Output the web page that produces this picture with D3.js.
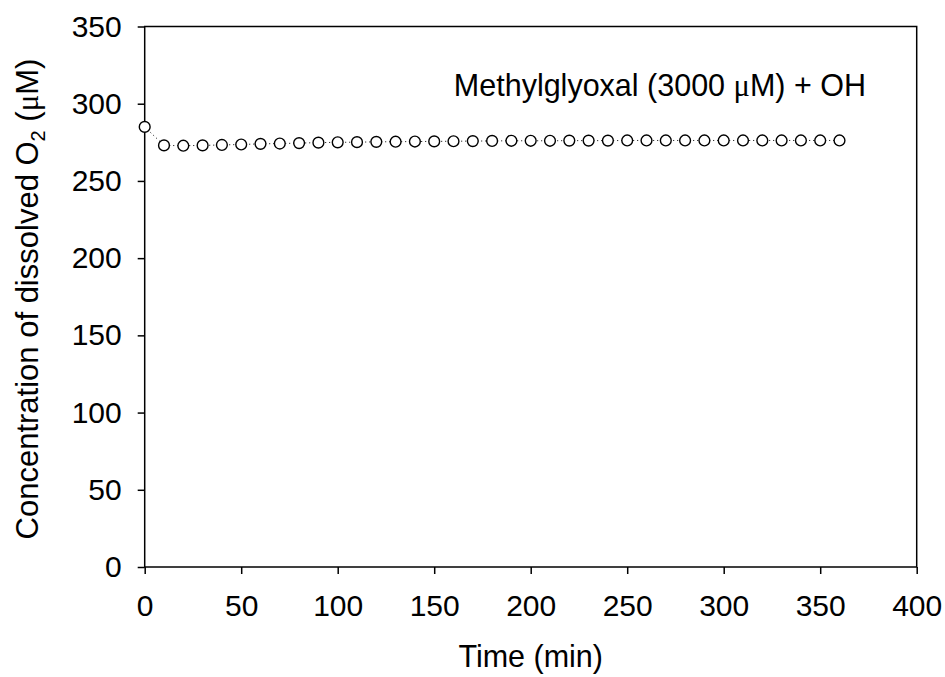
<!DOCTYPE html>
<html>
<head>
<meta charset="utf-8">
<script src="https://cdn.jsdelivr.net/npm/d3@7"></script>
<style>
  body { margin: 0; background: #fff; }
  svg text { font-family: "Liberation Sans", Arial, sans-serif; fill: #000; }
</style>
</head>
<body>
<svg id="chart" width="945" height="677"></svg>
<script>
// time points (min)
const times = [0, 10, 20, 30, 40, 50, 60, 70, 80, 90, 100, 110, 120, 130, 140, 150, 160, 170, 180,
               190, 200, 210, 220, 230, 240, 250, 260, 270, 280, 290, 300, 310, 320, 330, 340, 350, 360];
// dissolved O2 (uM)
const o2 = [285, 273, 272.8, 273, 273.3, 273.6, 274, 274.2, 274.5, 274.8, 275, 275.1, 275.3, 275.4, 275.5, 275.6,
            275.7, 275.8, 275.9, 276, 276, 276, 276.1, 276.1, 276.1, 276.2, 276.2, 276.2, 276.2, 276.2, 276.2,
            276.2, 276.2, 276.2, 276.2, 276.2, 276.2];
const xTicks = [0, 50, 100, 150, 200, 250, 300, 350, 400];
const yTicks = [0, 50, 100, 150, 200, 250, 300, 350];

const data = times.map((t, i) => ({ t, v: o2[i] }));

const margin = {top: 26.5, right: 28.3, bottom: 110, left: 144.7};
const width  = 945 - margin.left - margin.right;
const height = 677 - margin.top - margin.bottom;
const tickFs = '30px';
const titleFs = '30.5px';

const svg = d3.select('#chart')
  .append('g')
    .attr('transform', `translate(${margin.left},${margin.top})`);

const x = d3.scaleLinear().domain([0, 400]).range([0, width]);
const y = d3.scaleLinear().domain([0, 350]).range([height, 0]);

// frame
svg.append('rect')
  .attr('width', width).attr('height', height)
  .attr('fill', 'none').attr('stroke', '#000').attr('stroke-width', 1.5);

// axes
const xAxis = svg.append('g')
  .attr('transform', `translate(0,${height})`)
  .call(d3.axisBottom(x).tickValues(xTicks).tickSize(7).tickPadding(21));
const yAxis = svg.append('g')
  .call(d3.axisLeft(y).tickValues(yTicks).tickSize(7).tickPadding(16));

[xAxis, yAxis].forEach(a => {
  a.attr('font-size', null).attr('font-family', null);
  a.select('.domain').remove();
  a.selectAll('line').attr('stroke', '#000').attr('stroke-width', 1.5);
  a.selectAll('text')
    .style('font-size', tickFs)
    .attr('fill', '#000');
});

// dotted connecting line
const line = d3.line().x(d => x(d.t)).y(d => y(d.v));
svg.append('path')
  .datum(data)
  .attr('fill', 'none')
  .attr('stroke', '#000')
  .attr('stroke-width', 1)
  .attr('stroke-dasharray', '1,3')
  .attr('d', line);

// markers
svg.selectAll('circle')
  .data(data)
  .enter().append('circle')
    .attr('cx', d => x(d.t))
    .attr('cy', d => y(d.v))
    .attr('r', 5.4)
    .attr('fill', '#fff')
    .attr('stroke', '#000')
    .attr('stroke-width', 1.4);

// annotation
const ann = svg.append('text')
  .attr('x', 866 - margin.left)
  .attr('y', 69.5)
  .attr('text-anchor', 'end')
  .style('font-size', titleFs);
ann.append('tspan').text('Methylglyoxal (3000 ');
ann.append('tspan').attr('font-family', '"Liberation Serif", serif').text('μ');
ann.append('tspan').text('M) + OH');

// x title
svg.append('text')
  .attr('x', width / 2)
  .attr('y', 667 - margin.top)
  .attr('text-anchor', 'middle')
  .style('font-size', titleFs)
  .text('Time (min)');

// y title
const yt = svg.append('text')
  .attr('transform', `translate(${38 - margin.left},${299 - margin.top}) rotate(-90)`)
  .attr('text-anchor', 'middle')
  .style('font-size', '31px');
yt.append('tspan').text('Concentration of dissolved O');
yt.append('tspan').style('font-size', '20px').attr('dy', 7).text('2');
yt.append('tspan').attr('dy', -7).text(' (');
yt.append('tspan').attr('font-family', '"Liberation Serif", serif').text('μ');
yt.append('tspan').text('M)');
</script>
</body>
</html>
